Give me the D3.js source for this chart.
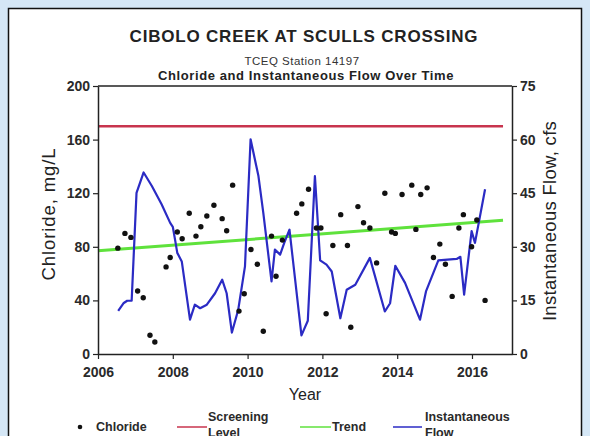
<!DOCTYPE html>
<html><head><meta charset="utf-8">
<script src="https://cdn.jsdelivr.net/npm/d3@7"></script>
<style>
html,body{margin:0;padding:0;background:#d5e7f6;}
svg{display:block;font-family:"Liberation Sans",Arial,sans-serif;}
</style></head>
<body><svg id="c" width="590" height="436"></svg>
<script>
const chlorideYears = [2006.53,2006.72,2006.88,2007.06,2007.21,2007.39,2007.52,2007.82,2007.93,2008.12,2008.25,2008.44,2008.62,2008.75,2008.91,2009.10,2009.32,2009.44,2009.60,2009.77,2009.91,2010.09,2010.26,2010.42,2010.64,2010.76,2010.93,2011.31,2011.45,2011.63,2011.84,2011.96,2012.10,2012.28,2012.49,2012.67,2012.76,2012.95,2013.10,2013.27,2013.45,2013.67,2013.85,2013.95,2014.13,2014.39,2014.50,2014.63,2014.80,2014.97,2015.14,2015.29,2015.47,2015.65,2015.77,2015.99,2016.13,2016.35];
const chlorideValues = [79,90,87,47,42,14,9,65,72,91,86,105,88,95,103,111,101,92,126,32,45,78,67,17,88,58,85,105,112,123,94,94,30,81,104,81,20,110,98,94,68,120,91,90,119,126,93,119,124,72,82,67,43,94,104,80,100,40];
const flowYears = [2006.54,2006.68,2006.78,2006.90,2007.03,2007.22,2007.44,2007.70,2007.93,2008.00,2008.06,2008.12,2008.24,2008.46,2008.59,2008.73,2008.91,2009.13,2009.32,2009.44,2009.58,2009.75,2009.93,2010.08,2010.29,2010.42,2010.64,2010.73,2010.87,2010.98,2011.12,2011.44,2011.61,2011.80,2011.94,2012.11,2012.25,2012.48,2012.65,2012.88,2013.27,2013.67,2013.81,2013.95,2014.21,2014.61,2014.77,2015.10,2015.59,2015.69,2015.79,2015.99,2016.08,2016.35];
const flowValues = [12.1,14.2,14.9,14.9,45.1,50.8,47,41.9,36.7,35.6,32,28.3,25.9,9.6,13.8,12.8,13.8,17,20.8,17,6,12.4,24.5,60.1,49.8,39.5,20.3,29.2,27.8,31.1,34.8,5.2,9.3,49.8,26.2,25,23.1,10,18,19.4,26.9,11.9,14.2,24.7,19.9,9.6,17.5,26.2,26.6,27.2,16.6,34.4,31.1,46.1];
const screeningYears = [2006, 2016.83];
const screeningValues = [170, 170];
const trendYears = [2006, 2016.83];
const trendValues = [77, 99.8];
const xTicks = [2006,2008,2010,2012,2014,2016];
const yLeftTicks = [0,40,80,120,160,200];
const yRightTicks = [0,15,30,45,60,75];

const svg = d3.select("#c");
const L=98,R=512,T=86,B=354;
svg.append("rect").attr("x",8.5).attr("y",8.5).attr("width",573).attr("height",440)
  .attr("fill","#fff").attr("stroke","#111").attr("stroke-width",1.5);

const x = d3.scaleLinear().domain([2006,2017.07]).range([L,R]);
const yL = d3.scaleLinear().domain([0,200]).range([B,T]);
const yR = d3.scaleLinear().domain([0,75]).range([B,T]);

svg.append("text").attr("x",304).attr("y",42).attr("text-anchor","middle")
  .attr("font-size",17).attr("font-weight","bold").attr("letter-spacing",0.8).attr("fill","#222").text("CIBOLO CREEK AT SCULLS CROSSING");
svg.append("text").attr("x",302).attr("y",65).attr("text-anchor","middle")
  .attr("font-size",11.5).attr("letter-spacing",0.5).attr("fill","#333").text("TCEQ Station 14197");
svg.append("text").attr("x",306).attr("y",79.5).attr("text-anchor","middle")
  .attr("font-size",13).attr("font-weight","bold").attr("letter-spacing",0.6).attr("fill","#222").text("Chloride and Instantaneous Flow Over Time");

const line = d3.line().x(d=>x(d[0]));
svg.append("path").datum(screeningYears.map((d,i)=>[d,screeningValues[i]]))
  .attr("d",line.y(d=>yL(d[1]))).attr("fill","none").attr("stroke","#c8344e").attr("stroke-width",2.5);
svg.append("path").datum(trendYears.map((d,i)=>[d,trendValues[i]]))
  .attr("d",line.y(d=>yL(d[1]))).attr("fill","none").attr("stroke","#5fe23c").attr("stroke-width",3);
svg.append("path").datum(flowYears.map((d,i)=>[d,flowValues[i]]))
  .attr("d",d3.line().x(d=>x(d[0])).y(d=>yR(d[1])))
  .attr("fill","none").attr("stroke","#2b2bc4").attr("stroke-width",2.2).attr("stroke-linejoin","round");
svg.selectAll("circle.cl").data(chlorideYears.map((d,i)=>[d,chlorideValues[i]])).enter()
  .append("circle").attr("cx",d=>x(d[0])).attr("cy",d=>yL(d[1])).attr("r",2.7).attr("fill","#111");

svg.append("line").attr("x1",L).attr("x2",R).attr("y1",T).attr("y2",T).attr("stroke","#222").attr("stroke-width",1.5);

const styleAxis = g=>{
  g.selectAll(".domain").attr("stroke","#222").attr("stroke-width",1.5);
  g.selectAll(".tick line").attr("stroke","#222").attr("stroke-width",1.2);
  g.selectAll("text").attr("font-size",14).attr("font-weight","bold").attr("fill","#2a2a2a").attr("font-family","Liberation Sans, Arial, sans-serif");
};
svg.append("g").attr("transform",`translate(0,${B})`)
  .call(d3.axisBottom(x).tickValues(xTicks).tickFormat(d3.format("d")).tickSize(5).tickSizeOuter(0).tickPadding(8)).call(styleAxis);
svg.append("g").attr("transform",`translate(${L},0)`)
  .call(d3.axisLeft(yL).tickValues(yLeftTicks).tickSize(5).tickSizeOuter(0).tickPadding(3)).call(styleAxis);
svg.append("g").attr("transform",`translate(${R},0)`)
  .call(d3.axisRight(yR).tickValues(yRightTicks).tickSize(5).tickSizeOuter(0).tickPadding(3)).call(styleAxis);

svg.append("text").attr("x",305).attr("y",400).attr("text-anchor","middle").attr("font-size",16).attr("fill","#222").text("Year");
svg.append("text").attr("transform",`translate(55,214) rotate(-90)`).attr("text-anchor","middle")
  .attr("font-size",18.5).attr("letter-spacing",0.9).attr("fill","#222").text("Chloride, mg/L");
svg.append("text").attr("transform",`translate(556,221) rotate(-90)`).attr("text-anchor","middle")
  .attr("font-size",18.5).attr("letter-spacing",0.3).attr("fill","#222").text("Instantaneous Flow, cfs");

const lg = svg.append("g").attr("font-size",12.5).attr("font-weight","bold").attr("fill","#2a2a2a");
lg.append("circle").attr("cx",80).attr("cy",427).attr("r",2.3).attr("fill","#111");
lg.append("text").attr("x",96).attr("y",431).text("Chloride");
lg.append("line").attr("x1",177).attr("x2",207).attr("y1",427).attr("y2",427).attr("stroke","#c8344e").attr("stroke-width",1.5);
lg.append("text").attr("x",208).attr("y",421).text("Screening");
lg.append("text").attr("x",208).attr("y",437).text("Level");
lg.append("line").attr("x1",300).attr("x2",331).attr("y1",427).attr("y2",427).attr("stroke","#5fe23c").attr("stroke-width",1.5);
lg.append("text").attr("x",332).attr("y",431).text("Trend");
lg.append("line").attr("x1",393).attr("x2",422).attr("y1",427).attr("y2",427).attr("stroke","#2b2bc4").attr("stroke-width",1.5);
lg.append("text").attr("x",425).attr("y",421).text("Instantaneous");
lg.append("text").attr("x",425).attr("y",437).text("Flow");
</script></body></html>
